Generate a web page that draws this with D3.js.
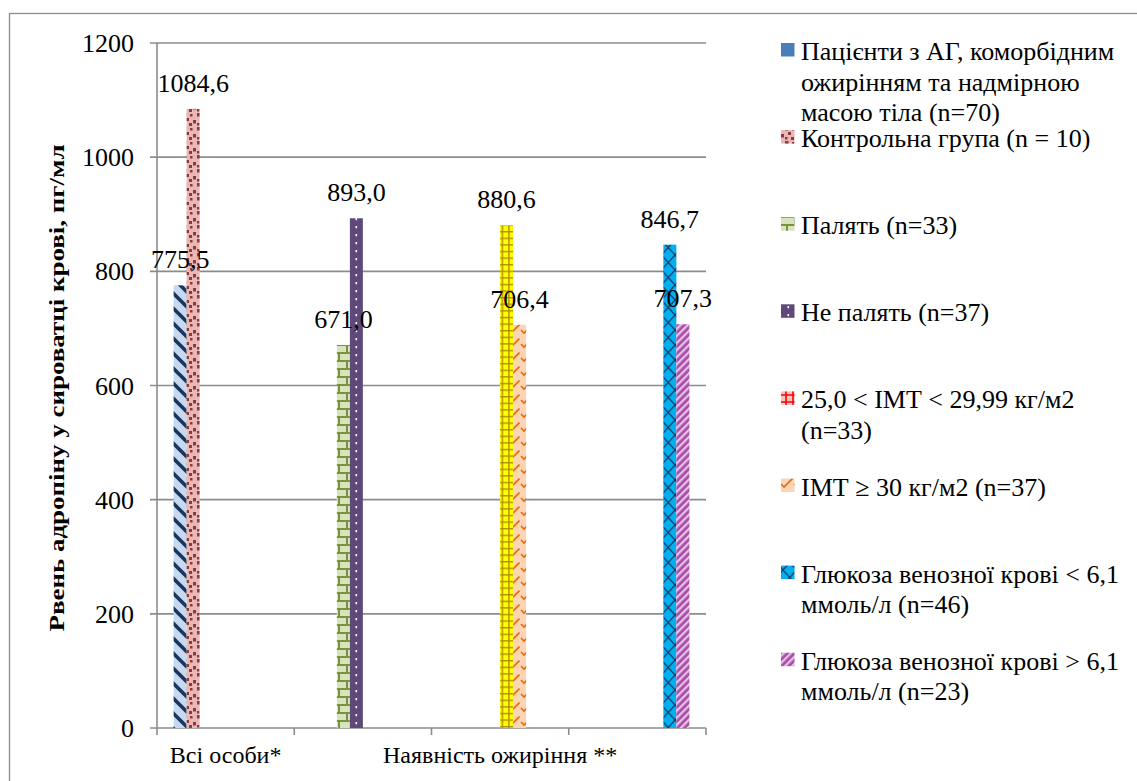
<!DOCTYPE html>
<html><head><meta charset="utf-8">
<script src="https://cdn.jsdelivr.net/npm/d3@7"></script>
<style>
html,body{margin:0;padding:0;background:#fff;}
svg{display:block;}
</style></head>
<body>
<svg id="chart" width="1137" height="781" font-family="Liberation Serif, Times New Roman, serif"></svg>
<script>
// ---------- data ----------
const categoryLabels = ["Всі особи*", "", "Наявність ожиріння **", ""];
const seriesLabels = [
  ["Пацієнти з АГ, коморбідним", "ожирінням та надмірною", "масою тіла (n=70)"],
  ["Контрольна група (n = 10)"],
  ["Палять (n=33)"],
  ["Не палять (n=37)"],
  ["25,0 < ІМТ < 29,99 кг/м2", "(n=33)"],
  ["ІМТ ≥ 30 кг/м2 (n=37)"],
  ["Глюкоза венозної крові < 6,1", "ммоль/л (n=46)"],
  ["Глюкоза венозної крові > 6,1", "ммоль/л (n=23)"]
];
const seriesValues = [775.5, 1084.6, 671.0, 893.0, 880.6, 706.4, 846.7, 707.3];
const seriesCategory = [0, 0, 1, 1, 2, 2, 3, 3];
const valueLabels = ["775,5", "1084,6", "671,0", "893,0", "880,6", "706,4", "846,7", "707,3"];
const yTicks = [0, 200, 400, 600, 800, 1000, 1200];
const yTitle = "Рвень адропіну у сироватці крові, пг/мл";

// ---------- layout ----------
const svg = d3.select("#chart");
const plot = {left: 157, right: 706, top: 43, bottom: 728};
const gridColor = "#8c8c8c";
const fs = 26;

const x0 = d3.scaleBand().domain(d3.range(categoryLabels.length)).range([plot.left, plot.right]).padding(0);
const x1 = d3.scaleBand().domain(d3.range(seriesValues.length)).range([0, x0.bandwidth()]).paddingInner(0).paddingOuter(1.28);
const y = d3.scaleLinear().domain([0, 1200]).range([plot.bottom, plot.top]);

// ---------- patterns ----------
const defs = svg.append("defs");
function pat(id, w, h, bg, draw, transform) {
  const p = defs.append("pattern").attr("id", id).attr("patternUnits", "userSpaceOnUse")
    .attr("width", w).attr("height", h);
  if (transform) p.attr("patternTransform", transform);
  p.append("rect").attr("width", w).attr("height", h).attr("fill", bg);
  draw(p);
}
pat("p1", 15, 15, "#c6d9f1", p => {
  p.append("path").attr("d", "M-3,-3L18,18M-3,12L3,18M12,-3L18,3").attr("stroke", "#17375e").attr("stroke-width", 3.6);
});
pat("p2", 14, 14, "#e6b9b8", p => {
  [[1,1,3.5],[8,2,2.5],[4,6,3],[11,8,3.5],[1,11,2.5],[7,11,3]].forEach(d =>
    p.append("rect").attr("x", d[0]).attr("y", d[1]).attr("width", d[2]).attr("height", d[2]).attr("fill", "#953735"));
});
pat("p3", 16, 16, "#d7e4bd", p => {
  p.append("path").attr("d", "M0,1H16M0,9H16M3,1V9M11,9V17").attr("stroke", "#77933c").attr("stroke-width", 2);
});
pat("p4", 8, 8, "#5f497a", p => {
  p.append("rect").attr("x", 3.5).attr("y", 2).attr("width", 1.6).attr("height", 2.2).attr("fill", "#ffffff");
});
pat("p5", 6.6, 6.6, "#ffff00", p => {
  p.append("path").attr("d", "M0.7,0V6.6M0,0.7H6.6").attr("stroke", "#b38f00").attr("stroke-width", 1.5);
});
pat("p5l", 7, 7, "#f2c3c3", p => {
  p.append("path").attr("d", "M2,0V7M0,3H7").attr("stroke", "#ff0000").attr("stroke-width", 1.6);
});
pat("p6", 13, 14, "#fcd5b5", p => {
  p.append("path").attr("d", "M1,8L4,11L12.5,2.5").attr("stroke", "#e46c0a").attr("stroke-width", 1.6).attr("fill", "none");
});
pat("p7", 13.5, 15, "#00b0f0", p => {
  p.append("path").attr("d", "M0,0L13.5,15M13.5,0L0,15").attr("stroke", "#1f3864").attr("stroke-width", 1.2);
});
pat("p8", 5, 5, "#a64ca6", p => {
  p.append("rect").attr("width", 2.3).attr("height", 5).attr("fill", "#e8bfe8");
}, "rotate(45)");

const barFills = ["url(#p1)", "url(#p2)", "url(#p3)", "url(#p4)", "url(#p5)", "url(#p6)", "url(#p7)", "url(#p8)"];
const legendFills = ["#4a7ebb", "url(#p2)", "url(#p3)", "url(#p4)", "url(#p5l)", "url(#p6)", "url(#p7)", "url(#p8)"];

// ---------- outer border ----------
svg.append("rect").attr("x", 9.5).attr("y", 13.5).attr("width", 1140).attr("height", 800)
  .attr("fill", "none").attr("stroke", gridColor).attr("stroke-width", 1.3);

// ---------- grid ----------
svg.append("g").selectAll("line").data(yTicks).join("line")
  .attr("x1", plot.left - 7).attr("x2", plot.right)
  .attr("y1", d => y(d)).attr("y2", d => y(d))
  .attr("stroke", gridColor).attr("stroke-width", 1.6);

svg.append("line").attr("x1", plot.left).attr("x2", plot.left).attr("y1", plot.top).attr("y2", plot.bottom)
  .attr("stroke", gridColor).attr("stroke-width", 1.6);

svg.append("g").selectAll("text").data(yTicks).join("text")
  .attr("x", 134).attr("y", d => y(d) + 9).attr("text-anchor", "end")
  .attr("font-size", fs).text(d => d);

const xTickPos = d3.range(categoryLabels.length + 1).map(i => plot.left + i * x0.step());
svg.append("g").selectAll("line").data(xTickPos).join("line")
  .attr("x1", d => d).attr("x2", d => d).attr("y1", plot.bottom).attr("y2", plot.bottom + 7)
  .attr("stroke", gridColor).attr("stroke-width", 1.6);

svg.append("g").selectAll("text").data(categoryLabels).join("text")
  .attr("x", (d, i) => x0(i) + x0.bandwidth() / 2).attr("y", 763)
  .attr("text-anchor", "middle").attr("font-size", 24).text(d => d);

svg.append("text").attr("transform", "translate(64,388) rotate(-90)")
  .attr("text-anchor", "middle").attr("font-size", 22).attr("font-weight", "bold")
  .attr("textLength", 487).attr("lengthAdjust", "spacingAndGlyphs").text(yTitle);

// ---------- bars ----------
const barData = seriesValues.map((v, i) => ({i, v, c: seriesCategory[i]}));
svg.append("g").selectAll("rect").data(barData).join("rect")
  .attr("x", d => x0(d.c) + x1(d.i))
  .attr("width", x1.bandwidth())
  .attr("y", d => y(d.v))
  .attr("height", d => y(0) - y(d.v))
  .attr("fill", d => barFills[d.i]);

svg.append("g").selectAll("text").data(barData).join("text")
  .attr("x", d => x0(d.c) + x1(d.i) + x1.bandwidth() / 2)
  .attr("y", d => y(d.v) - 17)
  .attr("text-anchor", "middle").attr("font-size", fs)
  .text(d => valueLabels[d.i]);

// ---------- legend ----------
const legend = svg.append("g");
const legendStep = 87.1, legendFirst = 60, lineH = 30.5;
seriesLabels.forEach((lines, i) => {
  const by = legendFirst + i * legendStep;
  legend.append("rect").attr("x", 781).attr("y", by - 17).attr("width", 13.5).attr("height", 13.5)
    .attr("fill", legendFills[i]);
  const t = legend.append("text").attr("x", 801).attr("y", by).attr("font-size", fs);
  lines.forEach((ln, k) => {
    t.append("tspan").attr("x", 801).attr("y", by + k * lineH).text(ln);
  });
});
</script>
</body></html>
